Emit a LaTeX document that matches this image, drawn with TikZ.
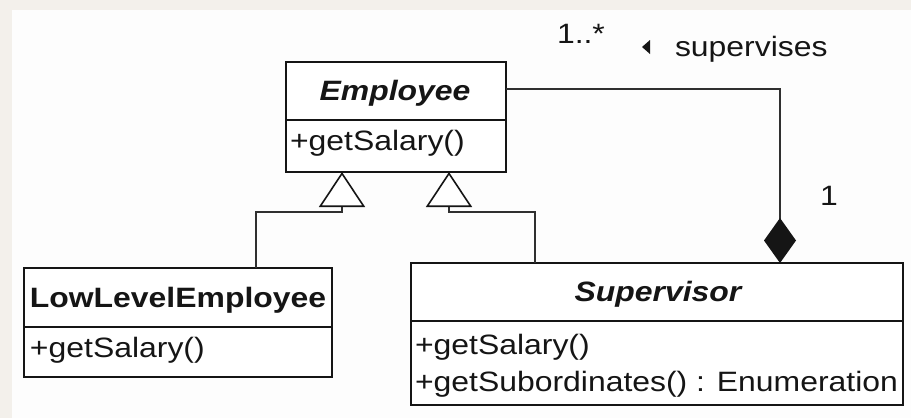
\documentclass[tikz,border=0pt]{standalone}
\usepackage{fontspec}
\setmainfont[FakeStretch=1.14]{Liberation Sans}
\usetikzlibrary{arrows.meta}
\definecolor{ink}{HTML}{151515}
\definecolor{wire}{HTML}{303030}
\definecolor{paper}{HTML}{FDFDFD}
\definecolor{rim}{HTML}{F3F0EB}
\begin{document}
\begin{tikzpicture}[x=1pt,y=-1pt,
  classbox/.style={draw=ink, line width=2.8pt, fill=white, inner sep=0pt,
    outer sep=0pt, anchor=north west},
  divider/.style={draw=ink, line width=2.8pt},
  optext/.style={inner sep=0pt, outer sep=0pt, text=ink,
    font=\fontsize{28}{33}\selectfont, anchor=base west},
  nametext/.style={inner sep=0pt, outer sep=0pt, text=ink,
    font=\fontsize{28}{33}\selectfont\bfseries, anchor=base},
  abstractname/.style={nametext, font=\fontsize{28}{33}\selectfont\bfseries\itshape},
  genarrow/.style={draw=wire, line width=1.6pt,
    -{Triangle[length=35pt, width=46pt, fill=white, color=ink]}},
  compose/.style={draw=wire, line width=1.6pt,
    -{Diamond[length=45pt, width=32pt, color=ink, fill=ink]}},
]
% paper
\fill[rim] (0,0) rectangle (911,418);
\fill[paper] (12,10) rectangle (911,418);
\useasboundingbox (0,0) rectangle (911,418);

% classes
\node[classbox, minimum width=220pt, minimum height=110pt] (emp) at (286,62) {};
\draw[divider] ([yshift=-58pt]emp.north west) -- ([yshift=-58pt]emp.north east);
\node[abstractname] (empname) at (395,100) {Employee};
\node[optext] (empop) at (290,150) {+getSalary()};

\node[classbox, minimum width=308pt, minimum height=109pt] (low) at (24,268) {};
\draw[divider] ([yshift=-59pt]low.north west) -- ([yshift=-59pt]low.north east);
\node[nametext] (lowname) at (178,307) {LowLevelEmployee};
\node[optext] (lowop) at (30,357) {+getSalary()};

\node[classbox, minimum width=492pt, minimum height=142pt] (sup) at (411,263) {};
\draw[divider] ([yshift=-58pt]sup.north west) -- ([yshift=-58pt]sup.north east);
\node[abstractname] (supname) at (658,301) {Supervisor};
\node[optext] (supop1) at (415,354) {+getSalary()};
\node[optext] (supop2) at (415,391) {+getSubordinates() : Enumeration};

% generalisations
\draw[genarrow] ([xshift=78pt]low.north) |- ([xshift=-54pt,yshift=-40pt]emp.south)
  -- ([xshift=-54pt]emp.south);
\draw[genarrow] ([xshift=-122pt]sup.north) |- ([xshift=53pt,yshift=-40pt]emp.south)
  -- ([xshift=53pt]emp.south);

% composition: a supervisor supervises employees
\draw[compose] ([yshift=28pt]emp.east) -| ([xshift=123pt]sup.north);
\node[optext] (manyend) at (557,43) {1..*};
\node[optext] (role) at (675,56) {supervises};
\fill[ink] (642,47) -- (650,40) -- (650,54) -- cycle;
\node[optext] (oneend) at (820,205) {1};
\end{tikzpicture}
\end{document}
